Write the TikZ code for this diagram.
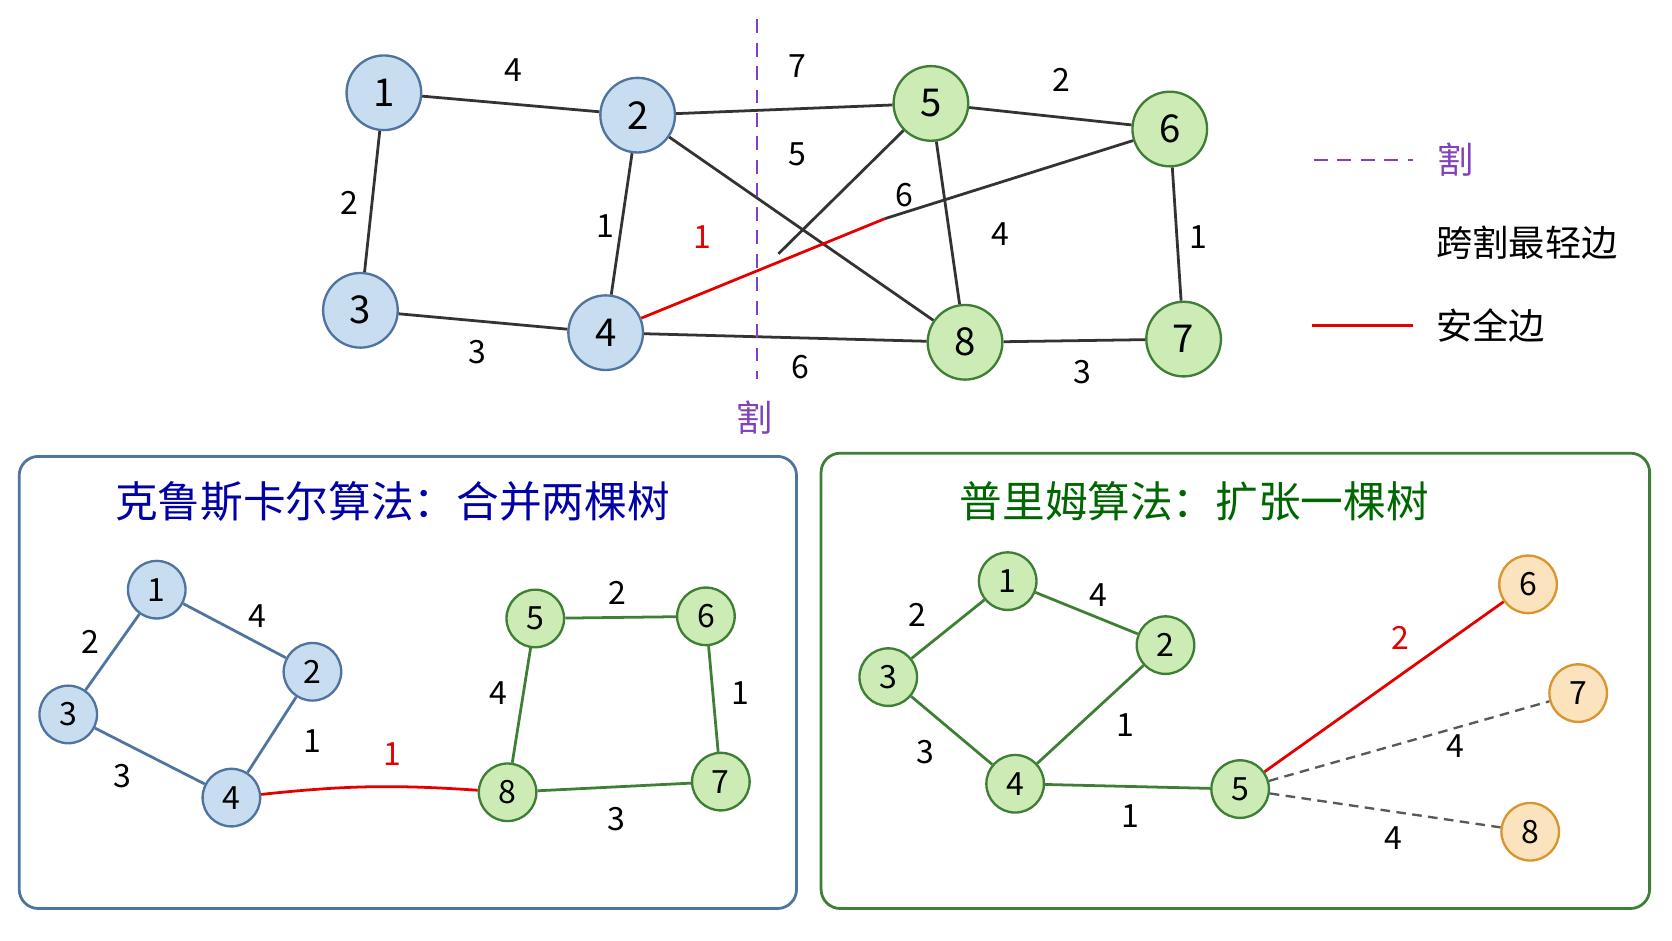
\documentclass[tikz,border=0pt]{standalone}
\usepackage{fontspec}
\setmainfont{Noto Sans CJK SC}
\definecolor{bfill}{HTML}{C8DDF0}
\definecolor{bdraw}{HTML}{4F74A0}
\definecolor{gfill}{HTML}{CDEBB4}
\definecolor{gdraw}{HTML}{3F7F35}
\definecolor{ofill}{HTML}{FBE3BE}
\definecolor{odraw}{HTML}{D9952E}
\definecolor{cutc}{HTML}{8040C0}
\begin{document}
\begin{tikzpicture}[x=1pt,y=-1pt,
 bn/.style={circle,draw=bdraw,fill=bfill,line width=2.2pt,minimum size=70pt,inner sep=0pt,font=\fontsize{36}{36}\selectfont},
 gn/.style={bn,draw=gdraw,fill=gfill},
 sbn/.style={bn,minimum size=54pt,font=\fontsize{30}{30}\selectfont},
 sgn/.style={gn,minimum size=54pt,font=\fontsize{30}{30}\selectfont},
 son/.style={sbn,draw=odraw,fill=ofill},
 e/.style={line width=2.6pt,draw=black!80},
 eb/.style={line width=2.6pt,draw=bdraw},
 eg/.style={line width=2.6pt,draw=gdraw},
 er/.style={line width=2.6pt,draw=red!90!black},
 ed/.style={line width=2.2pt,draw=black!65,dash pattern=on 9pt off 6pt},
 w/.style={font=\fontsize{30}{30}\selectfont},
 cut/.style={line width=2.6pt,draw=cutc,dash pattern=on 13pt off 9pt}]
\useasboundingbox (0,0) rectangle (1568,882);
% top graph
\node[bn] (t1) at (360,87) {1};
\node[bn] (t2) at (598,108) {2};
\node[bn] (t3) at (338,291) {3};
\node[bn] (t4) at (568,312) {4};
\node[gn] (t5) at (873,97) {5};
\node[gn] (t6) at (1097,121) {6};
\node[gn] (t7) at (1110,318) {7};
\node[gn] (t8) at (905,321) {8};
\coordinate (c46) at (830,205);
\coordinate (c45) at (730,238);
\draw[e] (t1)--(t2); \draw[e] (t1)--(t3); \draw[e] (t3)--(t4); \draw[e] (t2)--(t4);
\draw[e] (t2)--(t5); \draw[e] (t2)--(t8); \draw[e] (t5)--(t6); \draw[e] (t5)--(t8);
\draw[e] (t6)--(t7); \draw[e] (t4)--(t8); \draw[e] (t8)--(t7);
\draw[er] (t4)--(c46); \draw[e] (c46)--(t6); \draw[e] (c45)--(t5);
\node[w] (w12) at (481,66) {4}; \node[w] (w13) at (328,190) {2};
\node[w] (w34) at (448,330) {3}; \node[w] (w24) at (568,212) {1};
\node[w] (w25) at (748,62) {7}; \node[w] (w28) at (748,145) {5};
\node[w] (w56) at (995,75) {2}; \node[w] (w46) at (848,183) {6};
\node[w] (w58) at (938,220) {4}; \node[w] (w67) at (1124,222) {1};
\node[w] (w48) at (751,344) {6}; \node[w] (w87) at (1015,349) {3};
\node[w,text=red!90!black] (wr) at (659,222) {1};
\coordinate (cutA) at (710,18); \coordinate (cutB) at (710,355);
\draw[cut] (cutA)--(cutB);
\node[font=\fontsize{34}{34}\selectfont,text=cutc] (cl) at (708,392) {割};
% legend
\coordinate (l1a) at (1232,150); \coordinate (l1b) at (1325,150);
\draw[cut] (l1a)--(l1b);
\node[font=\fontsize{34}{34}\selectfont,text=cutc] (lg1) at (1365,150) {割};
\node[font=\fontsize{34}{34}\selectfont] (lg2) at (1432,228) {跨割最轻边};
\coordinate (l2a) at (1230,305); \coordinate (l2b) at (1325,305);
\draw[er] (l2a)--(l2b);
\node[font=\fontsize{34}{34}\selectfont] (lg3) at (1398,305) {安全边};
% boxes
\draw[line width=2.6pt,draw=bdraw,rounded corners=18pt] (18,428) rectangle (747,852);
\draw[line width=2.6pt,draw=gdraw,rounded corners=18pt] (770,425) rectangle (1547,852);
\node[font=\fontsize{40}{40}\selectfont,text=blue!65!black] (tk) at (368,470) {克鲁斯卡尔算法：合并两棵树};
\node[font=\fontsize{40}{40}\selectfont,text=green!40!black] (tp) at (1120,470) {普里姆算法：扩张一棵树};
% Kruskal
\node[sbn] (k1) at (147,553) {1}; \node[sbn] (k2) at (293,630) {2};
\node[sbn] (k3) at (64,670) {3}; \node[sbn] (k4) at (217,748) {4};
\node[sgn] (k5) at (502,580) {5}; \node[sgn] (k6) at (662,578) {6};
\node[sgn] (k7) at (676,733) {7}; \node[sgn] (k8) at (476,743) {8};
\draw[eb] (k1)--(k2); \draw[eb] (k1)--(k3); \draw[eb] (k2)--(k4); \draw[eb] (k3)--(k4);
\draw[eg] (k5)--(k6); \draw[eg] (k6)--(k7); \draw[eg] (k5)--(k8); \draw[eg] (k8)--(k7);
\draw[er] (k4) to[bend left=5] (k8);
\node[w] at (241,578) {4}; \node[w] at (85,602) {2}; \node[w] at (293,695) {1}; \node[w] at (115,728) {3};
\node[w] at (579,556) {2}; \node[w] at (467,650) {4}; \node[w] at (694,650) {1}; \node[w] at (578,768) {3};
\node[w,text=red!90!black] at (368,707) {1};
% Prim
\node[sgn] (p1) at (945,545) {1}; \node[sgn] (p2) at (1093,605) {2};
\node[sgn] (p3) at (833,635) {3}; \node[sgn] (p4) at (952,735) {4};
\node[sgn] (p5) at (1163,740) {5};
\node[son] (p6) at (1433,548) {6}; \node[son] (p7) at (1480,650) {7}; \node[son] (p8) at (1435,780) {8};
\draw[eg] (p1)--(p2); \draw[eg] (p1)--(p3); \draw[eg] (p2)--(p4); \draw[eg] (p3)--(p4); \draw[eg] (p4)--(p5);
\draw[er] (p5)--(p6); \draw[ed] (p5)--(p7); \draw[ed] (p5)--(p8);
\node[w] at (1030,558) {4}; \node[w] at (860,577) {2}; \node[w] at (1055,680) {1};
\node[w] at (868,705) {3}; \node[w] at (1060,765) {1};
\node[w,text=red!90!black] at (1313,598) {2}; \node[w] at (1365,700) {4}; \node[w] at (1307,786) {4};
\end{tikzpicture}
\end{document}
